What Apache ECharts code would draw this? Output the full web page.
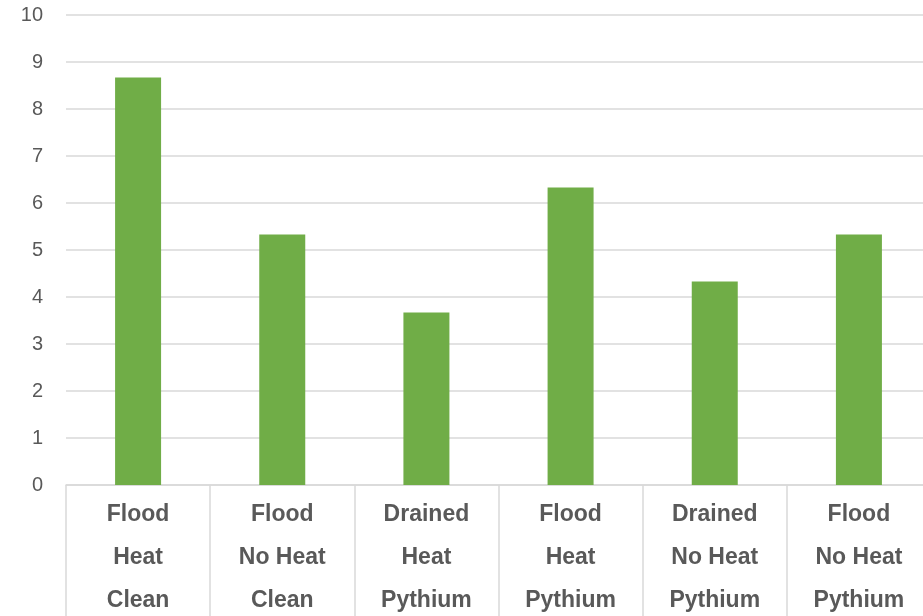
<!DOCTYPE html>
<html>
<head>
<meta charset="utf-8">
<script src="https://cdn.jsdelivr.net/npm/echarts@6/dist/echarts.min.js"></script>
<style>html,body{margin:0;padding:0;background:#fff;}#c{width:923px;height:616px;}</style>
</head>
<body>
<div id="c"></div>
<script>
var categories = ["Flood\nHeat\nClean", "Flood\nNo Heat\nClean", "Drained\nHeat\nPythium", "Flood\nHeat\nPythium", "Drained\nNo Heat\nPythium", "Flood\nNo Heat\nPythium"];
var values = [8.67, 5.33, 3.67, 6.33, 4.33, 5.33];
var chart = echarts.init(document.getElementById('c'));
chart.setOption({
  animation: false,
  grid: {left: 66, right: -8, top: 15, bottom: 131, containLabel: false, outerBoundsMode: 'none'},
  xAxis: {
    type: 'category',
    data: categories,
    axisLine: {lineStyle: {color: '#d9d9d9', width: 1.5}},
    axisTick: {show: true, interval: 0, length: 140, lineStyle: {color: '#d9d9d9', width: 1.5}},
    axisLabel: {interval: 0, margin: 8, fontFamily: 'Liberation Sans, Arial', fontSize: 23, fontWeight: 'bold', color: '#595959', lineHeight: 43}
  },
  yAxis: {
    type: 'value', min: 0, max: 10, interval: 1,
    axisLine: {show: false}, axisTick: {show: false},
    axisLabel: {margin: 23, fontFamily: 'Liberation Sans, Arial', fontSize: 20, color: '#595959'},
    splitLine: {lineStyle: {color: '#d9d9d9', width: 1.5}}
  },
  series: [{type: 'bar', data: values, barWidth: 46, itemStyle: {color: '#70AD47'}}]
});
</script>
</body>
</html>
